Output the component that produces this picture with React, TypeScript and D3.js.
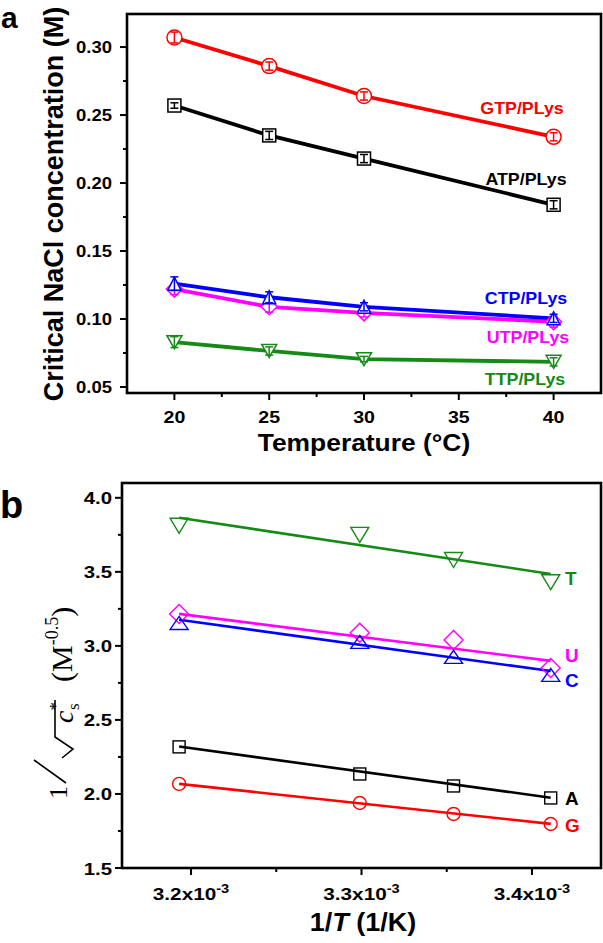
import React from "react";
import * as d3 from "d3";

// ---------- Panel a data ----------
const tempC = [20, 25, 30, 40];
const gtpVals = [0.307, 0.286, 0.264, 0.234];
const atpVals = [0.257, 0.235, 0.218, 0.184];
const ctpVals = [0.126, 0.116, 0.109, 0.1005];
const utpVals = [0.122, 0.109, 0.1045, 0.098];
const ttpVals = [0.083, 0.0765, 0.0705, 0.0685];
const gtpErr = [0.004, 0.003, 0.003, 0.003];
const atpErr = [0.002, 0.003, 0.003, 0.003];
const ctpErr = [0.005, 0.004, 0.003, 0.003];
const utpErr = [0.004, 0.004, 0.003, 0.004];
const ttpErr = [0.004, 0.003, 0.002, 0.003];
const aYTicks = [0.05, 0.1, 0.15, 0.2, 0.25, 0.3];
const aYMinor = [0.075, 0.125, 0.175, 0.225, 0.275];
const aXTicks = [20, 25, 30, 35, 40];
const aXMinor = [22.5, 27.5, 32.5, 37.5];

// ---------- Panel b data ----------
const invT = [3.193e-3, 3.299e-3, 3.354e-3, 3.411e-3];
const bA = [2.318, 2.135, 2.054, 1.973];
const bG = [2.068, 1.939, 1.865, 1.797];
const bT = [3.811, 3.75, 3.58, 3.43];
const bU = [3.216, 3.088, 3.04, 2.85];
const bC = [3.155, 3.027, 2.926, 2.804];
const fitA = [2.32, 1.975];
const fitG = [2.068, 1.798];
const fitT = [3.865, 3.486];
const fitU = [3.216, 2.899];
const fitC = [3.176, 2.83];
const bYTicks = [1.5, 2.0, 2.5, 3.0, 3.5, 4.0];
const bYMinor = [1.75, 2.25, 2.75, 3.25, 3.75];
const bXTicks = [3.2e-3, 3.3e-3, 3.4e-3];
const bXMinor = [3.25e-3, 3.35e-3];

const RED = "#ff0000";
const BLACK = "#000000";
const BLUE = "#0000ff";
const MAGENTA = "#ff00ff";
const GREEN = "#158a15";

const SANS = "'Liberation Sans', Arial, sans-serif";
const SERIF = "'Liberation Serif', 'Times New Roman', serif";

type Shape = "circle" | "square" | "up" | "down" | "diamond";

function Marker({ shape, cx, cy, w, h, color, fill, sw }: any) {
  const hw = w / 2;
  const hh = h / 2;
  if (shape === "circle")
    return <circle cx={cx} cy={cy} r={hw} fill={fill} stroke={color} strokeWidth={sw} />;
  if (shape === "square")
    return <rect x={cx - hw} y={cy - hh} width={w} height={h} fill={fill} stroke={color} strokeWidth={sw} />;
  let d = "";
  if (shape === "up") d = `M${cx},${cy - hh}L${cx + hw},${cy + hh}L${cx - hw},${cy + hh}Z`;
  if (shape === "down") d = `M${cx},${cy + hh}L${cx + hw},${cy - hh}L${cx - hw},${cy - hh}Z`;
  if (shape === "diamond") d = `M${cx},${cy - hh}L${cx + hw},${cy}L${cx},${cy + hh}L${cx - hw},${cy}Z`;
  return <path d={d} fill={fill} stroke={color} strokeWidth={sw} />;
}

function Txt({ x, y, size, sx = 1, anchor = "start", color = "#000", weight = "bold", family = SANS, children, style }: any) {
  return (
    <text
      transform={`translate(${x},${y}) scale(${sx},1)`}
      fontSize={size}
      fontWeight={weight}
      fontFamily={family}
      textAnchor={anchor}
      fill={color}
      style={style}
    >
      {children}
    </text>
  );
}

export default function App() {
  // Panel a scales
  const ax = d3.scaleLinear().domain([17.5, 42.5]).range([127, 601]);
  const ay = d3.scaleLinear().domain([0.0456, 0.3243]).range([393, 14]);
  // Panel b scales
  const bx = d3.scaleLinear().domain([3.1595e-3, 3.4405e-3]).range([122, 601]);
  const by = d3.scaleLinear().domain([1.5, 4.1]).range([868, 483]);

  const aLine = d3
    .line<number>()
    .x((_, i) => ax(tempC[i]))
    .y((v) => ay(v));

  const aSeries = [
    { vals: gtpVals, err: gtpErr, color: RED, shape: "circle" as Shape, w: 15, h: 15 },
    { vals: atpVals, err: atpErr, color: BLACK, shape: "square" as Shape, w: 13, h: 13 },
    { vals: ttpVals, err: ttpErr, color: GREEN, shape: "down" as Shape, w: 15, h: 13 },
    { vals: utpVals, err: utpErr, color: MAGENTA, shape: "diamond" as Shape, w: 16, h: 16 },
    { vals: ctpVals, err: ctpErr, color: BLUE, shape: "up" as Shape, w: 13, h: 13 },
  ];

  const aLabels = [
    { text: "GTP/PLys", x: 522, y: 114, color: RED },
    { text: "ATP/PLys", x: 526, y: 185, color: BLACK },
    { text: "CTP/PLys", x: 526, y: 304, color: BLUE },
    { text: "UTP/PLys", x: 528, y: 343, color: MAGENTA },
    { text: "TTP/PLys", x: 525, y: 385, color: GREEN },
  ];

  const bSeries = [
    { vals: bT, fit: fitT, color: GREEN, shape: "down" as Shape, w: 18, h: 15, label: "T", ly: 585 },
    { vals: bU, fit: fitU, color: MAGENTA, shape: "diamond" as Shape, w: 19, h: 19, label: "U", ly: 662 },
    { vals: bC, fit: fitC, color: BLUE, shape: "up" as Shape, w: 18, h: 13, label: "C", ly: 687 },
    { vals: bA, fit: fitA, color: BLACK, shape: "square" as Shape, w: 12, h: 12, label: "A", ly: 805 },
    { vals: bG, fit: fitG, color: RED, shape: "circle" as Shape, w: 13, h: 13, label: "G", ly: 832 },
  ];

  const fmt2 = d3.format(".2f");
  const fmt1 = d3.format(".1f");

  return (
    <svg width={603} height={943} style={{ position: "absolute", left: 0, top: 0, background: "#fff" }}>
      <rect x={0} y={0} width={603} height={943} fill="#fff" />
      {/* ================= Panel a ================= */}
      <Txt x={1} y={27.5} size={30}>a</Txt>

      {/* y minor and major ticks */}
      {aYMinor.map((t) => (
        <line key={"aym" + t} x1={127} x2={123} y1={ay(t)} y2={ay(t)} stroke="#000" strokeWidth={2} />
      ))}
      {aYTicks.map((t) => (
        <g key={"ay" + t}>
          <line x1={127} x2={120} y1={ay(t)} y2={ay(t)} stroke="#000" strokeWidth={2} />
          <Txt x={112} y={ay(t) + 6} size={16.5} sx={1.12} anchor="end">{fmt2(t)}</Txt>
        </g>
      ))}
      {aXMinor.map((t) => (
        <line key={"axm" + t} x1={ax(t)} x2={ax(t)} y1={393} y2={397} stroke="#000" strokeWidth={2} />
      ))}
      {aXTicks.map((t) => (
        <g key={"ax" + t}>
          <line x1={ax(t)} x2={ax(t)} y1={393} y2={400} stroke="#000" strokeWidth={2} />
          <Txt x={ax(t)} y={423} size={17} sx={1.15} anchor="middle">{String(t)}</Txt>
        </g>
      ))}
      <Txt x={364} y={451} size={24} sx={1.1} anchor="middle">Temperature (°C)</Txt>
      <text
        transform="translate(63,204) rotate(-90)"
        fontSize={27}
        fontWeight="bold"
        fontFamily={SANS}
        textAnchor="middle"
      >
        Critical NaCl concentration (M)
      </text>

      {/* lines */}
      {aSeries.map((s, i) => (
        <path key={"al" + i} d={aLine(s.vals) || ""} fill="none" stroke={s.color} strokeWidth={3.8} />
      ))}
      {/* markers + error bars */}
      {aSeries.map((s, i) =>
        s.vals.map((v, j) => {
          const cx = ax(tempC[j]);
          const cy = ay(v);
          const y1 = ay(v + s.err[j]);
          const y2 = ay(v - s.err[j]);
          return (
            <g key={"am" + i + "-" + j}>
              <Marker shape={s.shape} cx={cx} cy={cy} w={s.w} h={s.h} color={s.color} fill="#fff" sw={1.5} />
              <line x1={cx} x2={cx} y1={y1} y2={y2} stroke={s.color} strokeWidth={1.5} />
              <line x1={cx - 4} x2={cx + 4} y1={y1} y2={y1} stroke={s.color} strokeWidth={1.5} />
              <line x1={cx - 4} x2={cx + 4} y1={y2} y2={y2} stroke={s.color} strokeWidth={1.5} />
            </g>
          );
        })
      )}
      {aLabels.map((l) => (
        <Txt key={l.text} x={l.x} y={l.y} size={16.5} sx={1.08} anchor="middle" color={l.color}>
          {l.text}
        </Txt>
      ))}
      <rect x={127} y={14} width={474} height={379} fill="none" stroke="#000" strokeWidth={2.6} />

      {/* ================= Panel b ================= */}
      <Txt x={0} y={518} size={38}>b</Txt>

      {bYMinor.map((t) => (
        <line key={"bym" + t} x1={122} x2={118} y1={by(t)} y2={by(t)} stroke="#000" strokeWidth={2} />
      ))}
      {bYTicks.map((t) => (
        <g key={"by" + t}>
          <line x1={122} x2={115} y1={by(t)} y2={by(t)} stroke="#000" strokeWidth={2} />
          <Txt x={112} y={by(t) + 6.5} size={17} sx={1.2} anchor="end">{fmt1(t)}</Txt>
        </g>
      ))}
      {bXMinor.map((t) => (
        <line key={"bxm" + t} x1={bx(t)} x2={bx(t)} y1={868} y2={872} stroke="#000" strokeWidth={2} />
      ))}
      {bXTicks.map((t) => (
        <g key={"bx" + t}>
          <line x1={bx(t)} x2={bx(t)} y1={868} y2={875} stroke="#000" strokeWidth={2} />
          <Txt x={bx(t)} y={900} size={17} sx={1.22} anchor="middle">
            {fmt1(t * 1000)}x10
            <tspan fontSize={12} dy={-7}>-3</tspan>
          </Txt>
        </g>
      ))}
      <Txt x={363} y={931} size={25} sx={1.08} anchor="middle">
        1/<tspan fontStyle="italic">T</tspan> (1/K)
      </Txt>

      {/* y-axis label of panel b */}
      <g>
        <text
          transform="translate(67,799) rotate(-90)"
          fontSize={26}
          fontFamily={SERIF}
          textAnchor="start"
        >
          1
        </text>
        <line x1={34} y1={760} x2={66} y2={783} stroke="#000" strokeWidth={1.6} />
        <path d="M62,758 L73,749 L55,737 L55,700" fill="none" stroke="#000" strokeWidth={1.6} />
        <text
          transform="translate(73,723) rotate(-90)"
          fontSize={28}
          fontFamily={SERIF}
          textAnchor="start"
        >
          <tspan fontStyle="italic">c</tspan>
          <tspan fontSize={17} dy={-12}>*</tspan>
          <tspan fontSize={17} dx={-8} dy={18}>s</tspan>
        </text>
        <text
          transform="translate(72,682) rotate(-90)"
          fontSize={30}
          fontFamily={SERIF}
          textAnchor="start"
        >
          (M
          <tspan fontSize={18} dy={-14}>-0.5</tspan>
          <tspan dy={14}>)</tspan>
        </text>
      </g>

      {bSeries.map((s, i) => (
        <line
          key={"bf" + i}
          x1={bx(invT[0])}
          x2={bx(invT[invT.length - 1])}
          y1={by(s.fit[0])}
          y2={by(s.fit[1])}
          stroke={s.color}
          strokeWidth={2.6}
        />
      ))}
      {bSeries.map((s, i) =>
        s.vals.map((v, j) => (
          <Marker
            key={"bm" + i + "-" + j}
            shape={s.shape}
            cx={bx(invT[j])}
            cy={by(v)}
            w={s.w}
            h={s.h}
            color={s.color}
            fill="none"
            sw={1.4}
          />
        ))
      )}
      {bSeries.map((s) => (
        <Txt key={"bl" + s.label} x={565} y={s.ly} size={18} sx={1.05} color={s.color}>
          {s.label}
        </Txt>
      ))}
      <rect x={122} y={483} width={479} height={385} fill="none" stroke="#000" strokeWidth={2.6} />
    </svg>
  );
}
